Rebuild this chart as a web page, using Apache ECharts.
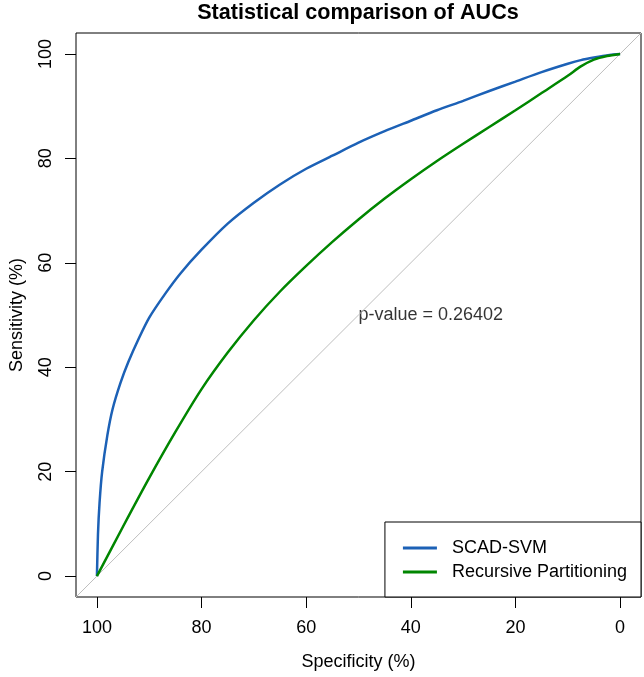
<!DOCTYPE html>
<html>
<head>
<meta charset="utf-8">
<script src="https://cdn.jsdelivr.net/npm/echarts@6/dist/echarts.min.js"></script>
<style>
  html, body {margin: 0; padding: 0; background: #fff;}
  #chart {width: 644px; height: 677px;}
</style>
</head>
<body>
<div id="chart"></div>
<script>
// ROC curves: specificity (%) on x (reversed), sensitivity (%) on y
const svmSpec = [100, 99.8, 99.5, 99, 98, 97, 95.5, 94, 92, 90, 87, 84, 80, 75, 70, 65, 60, 55, 50, 45, 40, 35, 30, 25, 20, 15, 10, 7.5, 5, 2, 0];
const svmSens = [0, 8, 14, 20, 27, 32, 37, 41, 45.5, 49.5, 54, 58, 62.5, 67.5, 71.5, 75, 78, 80.5, 83, 85.2, 87.2, 89.2, 91, 92.9, 94.7, 96.5, 98.1, 98.8, 99.3, 99.8, 100];

const rpSpec = [100, 95, 90, 85, 80, 75, 70, 65, 60, 55, 50, 45, 40, 35, 30, 25, 20, 15, 10, 7.5, 5, 2.5, 0];
const rpSens = [0, 9.5, 18.8, 27.6, 35.8, 42.8, 49, 54.5, 59.4, 64, 68.3, 72.3, 76, 79.5, 82.8, 86, 89.2, 92.5, 95.8, 97.6, 98.9, 99.6, 100];

// chance diagonal, spanning the whole plot box
const diagSpec = [104, -4];
const diagSens = [-4, 104];

const tickValues = [0, 20, 40, 60, 80, 100];
const seriesNames = ['SCAD-SVM', 'Recursive Partitioning'];
const colors = ['#1c61b6', '#008600'];
const pText = 'p-value = 0.26402';
const pPos = [50, 50];

const font = 'Liberation Sans, Arial, sans-serif';
const zip = (a, b) => a.map((v, i) => [v, b[i]]);

const chart = echarts.init(document.getElementById('chart'));
chart.setOption({
  animation: false,
  backgroundColor: '#fff',
  title: {
    text: 'Statistical comparison of AUCs',
    left: 358,
    top: 2,
    padding: 0,
    textAlign: 'center',
    textStyle: {fontFamily: font, fontSize: 21.6, fontWeight: 'bold', color: '#000'}
  },
  grid: {
    left: 76, right: 3, top: 33, bottom: 80,
    show: true, borderColor: '#000', borderWidth: 1, backgroundColor: 'transparent'
  },
  xAxis: {
    type: 'value', min: -4, max: 104, inverse: true,
    name: 'Specificity (%)', nameLocation: 'middle', nameGap: 56,
    nameTextStyle: {fontFamily: font, fontSize: 18, color: '#000'},
    axisLine: {show: false, onZero: false},
    splitLine: {show: false},
    axisTick: {show: true, customValues: tickValues, length: 11, lineStyle: {color: '#000', width: 1}},
    axisLabel: {customValues: tickValues, margin: 22, fontFamily: font, fontSize: 18, color: '#000'}
  },
  yAxis: {
    type: 'value', min: -4, max: 104,
    name: 'Sensitivity (%)', nameLocation: 'middle', nameGap: 50,
    nameTextStyle: {fontFamily: font, fontSize: 18, color: '#000'},
    axisLine: {show: false, onZero: false},
    splitLine: {show: false},
    axisTick: {show: true, customValues: tickValues, length: 11, lineStyle: {color: '#000', width: 1}},
    axisLabel: {customValues: tickValues, rotate: 90, margin: 21, fontFamily: font, fontSize: 18, color: '#000'}
  },
  legend: {
    data: seriesNames,
    orient: 'vertical',
    right: 3,
    bottom: 80,
    padding: [17, 14, 16, 18],
    itemGap: 6,
    itemWidth: 34,
    itemHeight: 3,
    icon: 'rect',
    borderColor: '#000',
    borderWidth: 1,
    borderRadius: 0,
    backgroundColor: '#fff',
    textStyle: {fontFamily: font, fontSize: 18, color: '#000', padding: [0, 0, 0, 10]}
  },
  series: [
    {
      type: 'line', name: 'diag', silent: true, symbol: 'none',
      data: zip(diagSpec, diagSens),
      lineStyle: {color: '#bebebe', width: 1}
    },
    {
      type: 'line', name: seriesNames[0], symbol: 'none',
      smooth: 0.25,
      data: zip(svmSpec, svmSens),
      itemStyle: {color: colors[0]},
      lineStyle: {color: colors[0], width: 2.5}
    },
    {
      type: 'line', name: seriesNames[1], symbol: 'none',
      smooth: 0.25,
      data: zip(rpSpec, rpSens),
      itemStyle: {color: colors[1]},
      lineStyle: {color: colors[1], width: 2.5}
    },
    {
      type: 'scatter', name: 'pvalue', silent: true,
      symbolSize: 0,
      data: [pPos],
      label: {
        show: true, position: 'right', distance: 0,
        formatter: pText,
        fontFamily: font, fontSize: 18, color: '#000'
      }
    }
  ]
});
</script>
</body>
</html>
